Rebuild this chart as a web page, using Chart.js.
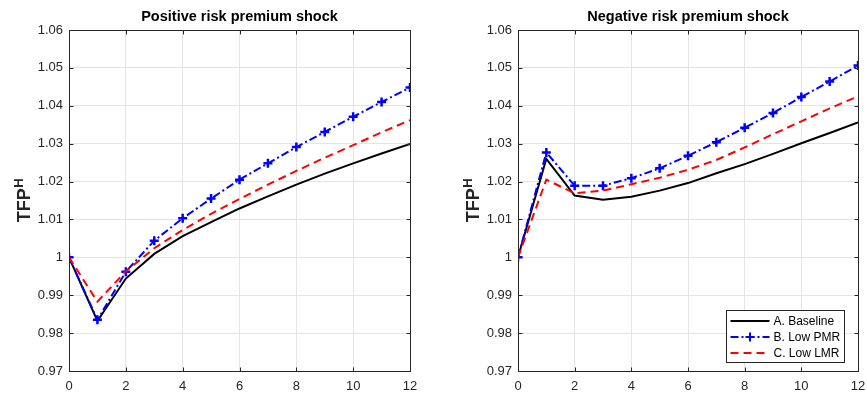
<!DOCTYPE html>
<html>
<head>
<meta charset="utf-8">
<script src="https://cdn.jsdelivr.net/npm/chart.js@4/dist/chart.umd.min.js"></script>
<style>
  body { margin: 0; background: white; }
  canvas { position: absolute; top: 0; }
</style>
</head>
<body>
<canvas id="left" width="434" height="396" style="left:0px"></canvas>
<canvas id="right" width="433" height="396" style="left:434px"></canvas>
<script>
// horizon (quarters after the shock)
const steps = [0, 1, 2, 3, 4, 5, 6, 7, 8, 9, 10, 11, 12];

// positive risk premium shock
const posBaseline = [1.0000, 0.9832, 0.9944, 1.0009, 1.0056, 1.0093, 1.0129, 1.0161, 1.0192, 1.0221, 1.0248, 1.0274, 1.0299];
const posLowPMR   = [1.0000, 0.9835, 0.9962, 1.0044, 1.0103, 1.0155, 1.0205, 1.0248, 1.0291, 1.0331, 1.0371, 1.0410, 1.0448];
const posLowLMR   = [1.0000, 0.9883, 0.9963, 1.0024, 1.0072, 1.0115, 1.0154, 1.0192, 1.0228, 1.0263, 1.0296, 1.0330, 1.0362];

// negative risk premium shock
const negBaseline = [1.0000, 1.0260, 1.0163, 1.0152, 1.0160, 1.0176, 1.0196, 1.0222, 1.0246, 1.0273, 1.0301, 1.0328, 1.0356];
const negLowPMR   = [1.0000, 1.0277, 1.0189, 1.0189, 1.0209, 1.0235, 1.0268, 1.0304, 1.0342, 1.0381, 1.0423, 1.0464, 1.0506];
const negLowLMR   = [1.0000, 1.0205, 1.0169, 1.0176, 1.0193, 1.0210, 1.0231, 1.0257, 1.0290, 1.0325, 1.0359, 1.0393, 1.0425];

const seriesNames = ['A. Baseline', 'B. Low PMR', 'C. Low LMR'];
const panelTitles = ['Positive risk premium shock', 'Negative risk premium shock'];
const yTitle = ['TFP', 'H'];

const FONT = '"Liberation Sans", Arial, Helvetica, sans-serif';
const axiscolor = '#262626';
const gridcolor = '#e4e4e4';

const styles = [
  { color: '#000000', dash: [], point: false },
  { color: '#0000ff', dash: [8, 3, 2, 3], point: true },
  { color: '#ff0000', dash: [8, 5], point: false },
];

function points(vals) {
  return steps.map((s, i) => ({ x: s, y: vals[i] }));
}

function drawCross(ctx, x, y, r) {
  ctx.beginPath();
  ctx.moveTo(x - r, y); ctx.lineTo(x + r, y);
  ctx.moveTo(x, y - r); ctx.lineTo(x, y + r);
  ctx.stroke();
}

// box round the axes with inward ticks on all four sides, ylabel, legend
const axesPlugin = {
  id: 'matlabAxes',
  afterDraw(chart, args, opts) {
    const ctx = chart.ctx;
    const a = chart.chartArea;
    const sx = chart.scales.x;
    const sy = chart.scales.y;
    const l = Math.round(a.left) + 0.5, r = Math.round(a.right) + 0.5;
    const t = Math.round(a.top) + 0.5, b = Math.round(a.bottom) + 0.5;

    ctx.save();
    ctx.strokeStyle = axiscolor;
    ctx.lineWidth = 1;
    ctx.strokeRect(l, t, r - l, b - t);
    ctx.beginPath();
    sx.ticks.forEach(tk => {
      const px = Math.round(sx.getPixelForValue(tk.value)) + 0.5;
      ctx.moveTo(px, b); ctx.lineTo(px, b - 4);
      ctx.moveTo(px, t); ctx.lineTo(px, t + 4);
    });
    sy.ticks.forEach(tk => {
      const py = Math.round(sy.getPixelForValue(tk.value)) + 0.5;
      ctx.moveTo(l, py); ctx.lineTo(l + 4, py);
      ctx.moveTo(r, py); ctx.lineTo(r - 4, py);
    });
    ctx.stroke();

    // y label TFP^H
    ctx.fillStyle = axiscolor;
    ctx.textBaseline = 'alphabetic';
    ctx.textAlign = 'left';
    ctx.font = `bold 18px ${FONT}`;
    const w1 = ctx.measureText(yTitle[0]).width;
    ctx.font = `bold 13px ${FONT}`;
    const w2 = ctx.measureText(yTitle[1]).width;
    ctx.translate(a.left - 39, (a.top + a.bottom) / 2);
    ctx.rotate(-Math.PI / 2);
    ctx.font = `bold 18px ${FONT}`;
    ctx.fillText(yTitle[0], -(w1 + w2) / 2, 0);
    ctx.font = `bold 13px ${FONT}`;
    ctx.fillText(yTitle[1], -(w1 + w2) / 2 + w1 + 0.5, -7.5);
    ctx.restore();

    if (!opts.legend) return;

    // legend inside lower right corner
    const bw = 118, bh = 52;
    const bx = Math.round(a.right - 14 - bw) + 0.5;
    const by = Math.round(a.bottom - 9 - bh) + 0.5;
    ctx.save();
    ctx.fillStyle = 'white';
    ctx.fillRect(bx, by, bw, bh);
    ctx.strokeStyle = axiscolor;
    ctx.lineWidth = 1;
    ctx.strokeRect(bx, by, bw, bh);
    ctx.font = `12px ${FONT}`;
    ctx.textBaseline = 'middle';
    ctx.fillStyle = '#000';
    chart.data.datasets.forEach((ds, i) => {
      const st = styles[i];
      const y = by + 10.5 + i * 16;
      ctx.strokeStyle = st.color;
      ctx.lineWidth = 2;
      ctx.setLineDash(st.dash);
      ctx.beginPath();
      ctx.moveTo(bx + 4, y); ctx.lineTo(bx + 43, y);
      ctx.stroke();
      ctx.setLineDash([]);
      if (st.point) drawCross(ctx, bx + 23.5, y, 4.5);
      ctx.fillText(ds.label, bx + 47, y + 0.5);
    });
    ctx.restore();
  },
};

function makePanel(id, title, vals, yWidth, rightPad, legend) {
  return new Chart(document.getElementById(id), {
    type: 'line',
    data: {
      datasets: vals.map((v, i) => ({
        label: seriesNames[i],
        data: points(v),
        borderColor: styles[i].color,
        backgroundColor: styles[i].color,
        borderWidth: 2,
        borderDash: styles[i].dash,
        pointStyle: 'cross',
        pointRadius: styles[i].point ? 4.5 : 0,
        pointBorderWidth: 2.5,
        pointBorderColor: styles[i].color,
        tension: 0,
        fill: false,
        order: 3 - i,
      })),
    },
    options: {
      responsive: false,
      animation: false,
      layout: { padding: { left: 0, right: rightPad, top: 0, bottom: 0 } },
      scales: {
        x: {
          type: 'linear',
          min: 0,
          max: 12,
          afterFit: (s) => { s.height = 25; s.paddingLeft = 0; s.paddingRight = 0; },
          ticks: {
            stepSize: 2,
            padding: 8,
            color: axiscolor,
            font: { family: FONT, size: 13 },
            maxRotation: 0,
          },
          grid: { color: gridcolor, drawTicks: false },
          border: { display: false },
        },
        y: {
          min: 0.97,
          max: 1.06,
          afterFit: (s) => { s.width = yWidth; },
          ticks: {
            stepSize: 0.01,
            padding: 6,
            color: axiscolor,
            font: { family: FONT, size: 13 },
            callback: (v) => String(Number(Number(v).toFixed(2))),
          },
          grid: { color: gridcolor, drawTicks: false },
          border: { display: false },
        },
      },
      plugins: {
        legend: { display: false },
        tooltip: { enabled: false },
        title: {
          display: true,
          fullSize: false,
          text: title,
          color: '#000',
          font: { family: FONT, size: 14.5, weight: 'bold' },
          padding: { top: 8, bottom: 4.6 },
        },
        matlabAxes: { legend: legend },
      },
    },
    plugins: [axesPlugin],
  });
}

makePanel('left', panelTitles[0], [posBaseline, posLowPMR, posLowLMR], 69, 24, false);
makePanel('right', panelTitles[1], [negBaseline, negLowPMR, negLowLMR], 84, 9, true);
</script>
</body>
</html>
